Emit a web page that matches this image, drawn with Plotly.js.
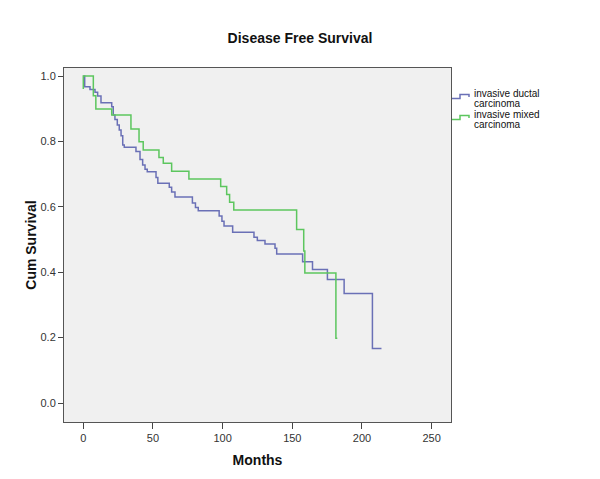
<!DOCTYPE html>
<html>
<head>
<meta charset="utf-8">
<script src="https://cdn.plot.ly/plotly-3.0.1.min.js"></script>
<style>html,body{margin:0;padding:0;background:#fff;}#chart{width:600px;height:479px;}</style>
</head>
<body>
<div id="chart"></div>
<script>
// ---- data ----
var chartTitle = "Disease Free Survival";
var xTitle = "Months";
var yTitle = "Cum Survival";
var seriesNames = ["invasive ductal carcinoma", "invasive mixed carcinoma"];

// invasive ductal carcinoma: step times (months) and cumulative survival after each step
var ductalMonths = [0, 1, 4.8, 8.4, 10.3, 12.7, 20.4, 21.5, 22.7, 24.4, 25.8, 27.1, 28.3, 29.4, 37.8, 40.7, 42.6, 44.3, 45.9, 52.2, 53.5, 61.7, 63.4, 65.8, 78.3, 80.5, 82.5, 97.5, 99.5, 101, 107.2, 122.5, 124.9, 130.4, 137.6, 138.8, 157.4, 164.5, 175.2, 187.2, 207.5, 214];
var ductalSurv   = [1.0, 0.967, 0.959, 0.950, 0.939, 0.918, 0.906, 0.881, 0.867, 0.850, 0.835, 0.817, 0.789, 0.782, 0.769, 0.745, 0.728, 0.715, 0.707, 0.690, 0.672, 0.660, 0.645, 0.630, 0.612, 0.598, 0.588, 0.572, 0.556, 0.541, 0.522, 0.507, 0.497, 0.486, 0.473, 0.456, 0.432, 0.408, 0.378, 0.335, 0.167, 0.167];

// invasive mixed carcinoma
var mixedMonths = [0, 0, 7.2, 9.0, 20.4, 34.2, 40, 43, 54.3, 57.4, 63.4, 75.8, 98.6, 102.9, 105, 108, 153.1, 158.2, 159, 181.3, 182.3];
var mixedSurv   = [0.96, 1.0, 0.94, 0.899, 0.881, 0.838, 0.799, 0.774, 0.751, 0.733, 0.709, 0.685, 0.662, 0.638, 0.614, 0.590, 0.531, 0.465, 0.398, 0.198, 0.198];

var xTickVals = [0, 50, 100, 150, 200, 250];
var yTickVals = [0.0, 0.2, 0.4, 0.6, 0.8, 1.0];

// ---- styling ----
var colors = ["#6a70b6", "#5cc65e"];
var FONT = "Liberation Sans, Arial, sans-serif";
var W = 600, H = 479;
var M = {l: 64, r: 149, t: 68, b: 57};
function px2x(px) { return (px - M.l) / (W - M.l - M.r); }
function px2y(py) { return (H - M.b - py) / (H - M.t - M.b); }

var traces = [
  {x: ductalMonths, y: ductalSurv, name: seriesNames[0], type: "scatter", mode: "lines",
   line: {shape: "hv", color: colors[0], width: 1.5}, showlegend: false, hoverinfo: "x+y+name"},
  {x: mixedMonths, y: mixedSurv, name: seriesNames[1], type: "scatter", mode: "lines",
   line: {shape: "hv", color: colors[1], width: 1.5}, showlegend: false, hoverinfo: "x+y+name"}
];

// legend drawn at the right, SPSS style (step icon + two-line label)
var annotations = [];
var shapes = [];
var legendTop = [93.5, 114.5];
seriesNames.forEach(function (nm, i) {
  var words = nm.split(" ");
  var line1 = words.slice(0, 2).join(" ");
  var line2 = words.slice(2).join(" ");
  var y0 = legendTop[i];
  annotations.push({xref: "paper", yref: "paper", x: px2x(472), y: px2y(y0), xanchor: "left", yanchor: "middle",
    text: line1, showarrow: false, font: {family: FONT, size: 10, color: "#111"}});
  annotations.push({xref: "paper", yref: "paper", x: px2x(472), y: px2y(y0 + 10.3), xanchor: "left", yanchor: "middle",
    text: line2, showarrow: false, font: {family: FONT, size: 10, color: "#111"}});
  var yl = y0 + 5, yh = y0 + 1;
  var p = "M " + px2x(452) + "," + px2y(yl) + " L " + px2x(460) + "," + px2y(yl) +
          " L " + px2x(460) + "," + px2y(yh) + " L " + px2x(469) + "," + px2y(yh) +
          " L " + px2x(469) + "," + px2y(yh + 2.5);
  shapes.push({type: "path", xref: "paper", yref: "paper", path: p, line: {color: colors[i], width: 1.5}});
});

var layout = {
  width: W, height: H,
  margin: {l: M.l, r: M.r, t: M.t, b: M.b, pad: 0},
  paper_bgcolor: "#ffffff",
  plot_bgcolor: "#f0f0f0",
  font: {family: FONT, color: "#333"},
  title: {text: "<b>" + chartTitle + "</b>", font: {family: FONT, size: 14, color: "#111"},
          x: 0.5, xref: "container", xanchor: "center", y: 1 - 38 / H, yref: "container", yanchor: "middle"},
  xaxis: {
    range: [-13.85, 263.9], tickmode: "array", tickvals: xTickVals, ticktext: xTickVals.map(String),
    ticks: "outside", ticklen: 6, tickcolor: "#444", tickwidth: 1,
    showline: true, mirror: true, linecolor: "#555", linewidth: 1,
    showgrid: false, zeroline: false,
    tickfont: {family: FONT, size: 11, color: "#333"},
    title: {text: "<b>" + xTitle + "</b>", font: {family: FONT, size: 14, color: "#111"}, standoff: 11}
  },
  yaxis: {
    range: [-0.058, 1.0245], tickmode: "array", tickvals: yTickVals, ticktext: yTickVals.map(function (v) { return v.toFixed(1); }),
    ticks: "outside", ticklen: 5, tickcolor: "#444", tickwidth: 1,
    showline: true, mirror: true, linecolor: "#555", linewidth: 1,
    showgrid: false, zeroline: false,
    tickfont: {family: FONT, size: 11, color: "#333"},
    title: {text: "<b>" + yTitle + "</b>", font: {family: FONT, size: 14, color: "#111"}, standoff: 0}
  },
  annotations: annotations,
  shapes: shapes,
  showlegend: false
};

Plotly.newPlot("chart", traces, layout, {displayModeBar: false, staticPlot: true});
</script>
</body>
</html>
